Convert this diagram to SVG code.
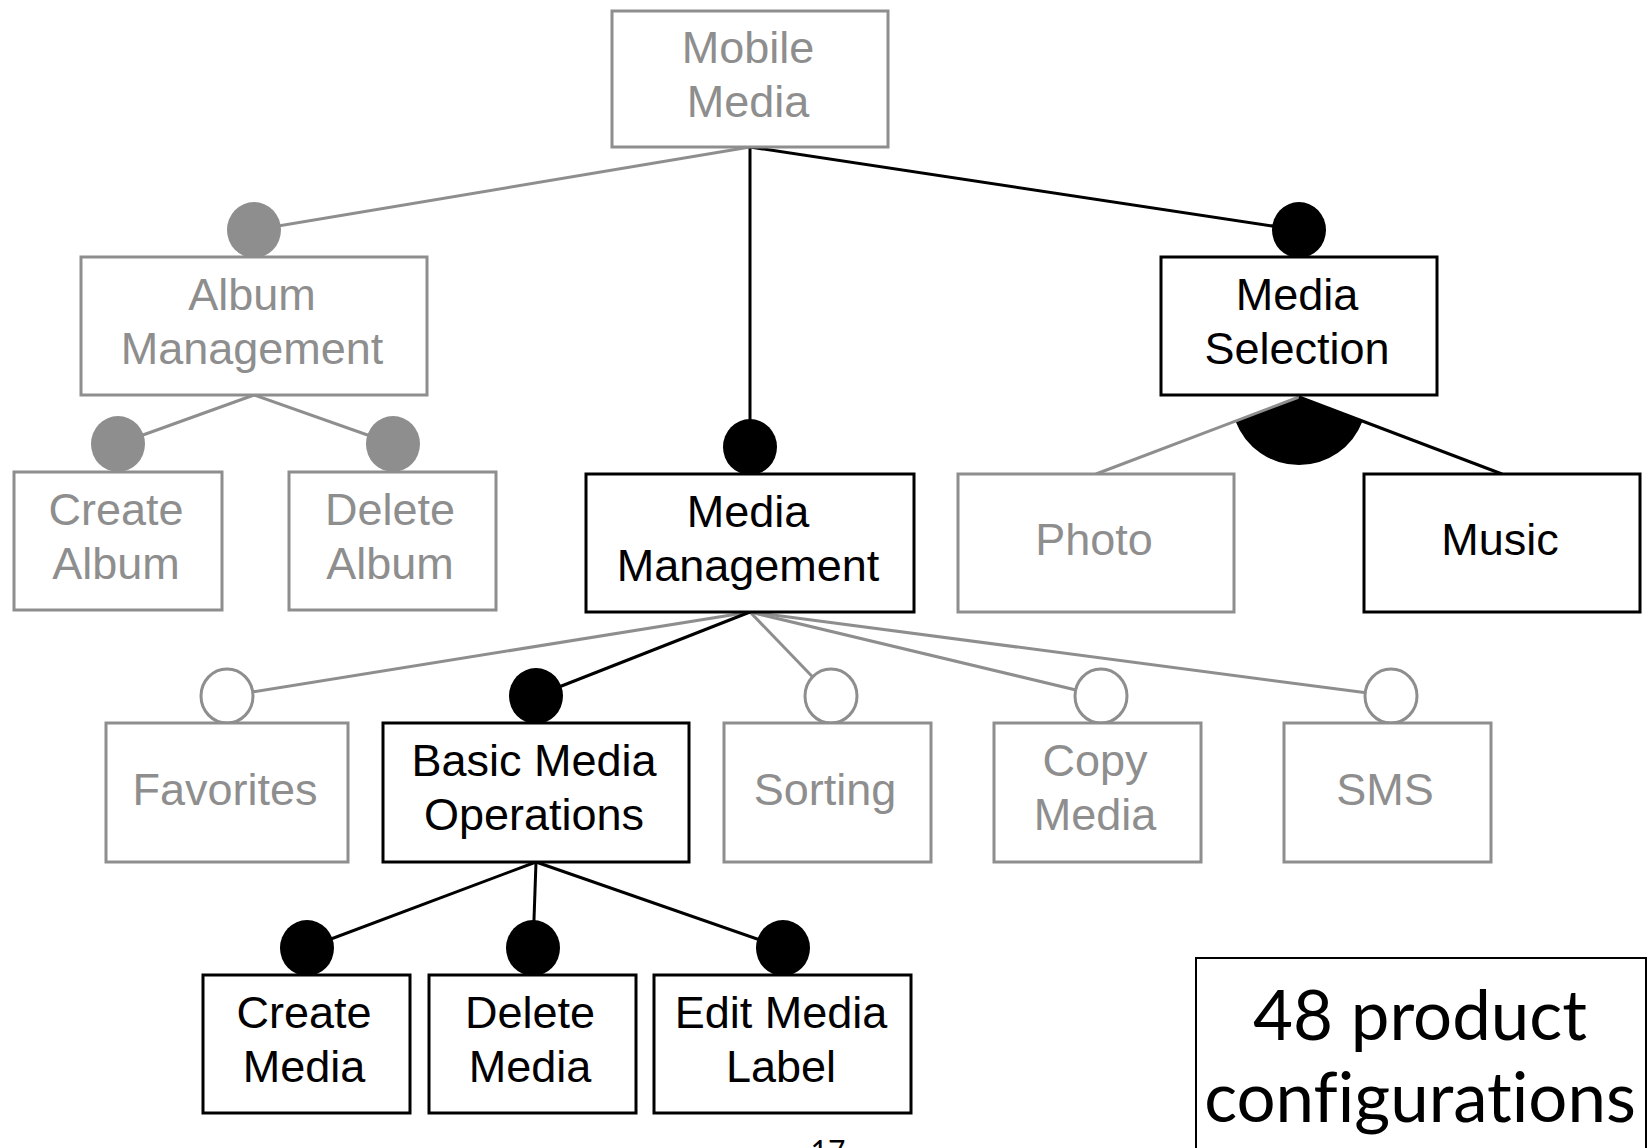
<svg xmlns="http://www.w3.org/2000/svg" width="1647" height="1148" viewBox="0 0 1647 1148">
<style>
  .g rect{fill:#fff;stroke:#8e8e8e;stroke-width:3}
  .k rect{fill:#fff;stroke:#000;stroke-width:3}
  .g text{fill:#8e8e8e}
  .k text{fill:#000}
  text{font-family:"Liberation Sans",Arial,sans-serif;font-size:45px;text-anchor:middle}
  .lg{stroke:#8e8e8e;stroke-width:3;fill:none}
  .lk{stroke:#000;stroke-width:3;fill:none}
  .cg{fill:#8e8e8e}
  .ck{fill:#000}
  .co{fill:#fff;stroke:#8e8e8e;stroke-width:3}
  .big{font-family:"Gill Sans","Lato","Open Sans",sans-serif;font-size:69px;fill:#000;font-variant-ligatures:none}
</style>
<rect width="1647" height="1148" fill="#fff"/>
<g id="connectors">
  <line class="lg" x1="750" y1="147" x2="254" y2="230"/>
  <line class="lk" x1="750" y1="147" x2="750" y2="447"/>
  <line class="lk" x1="750" y1="147" x2="1299" y2="230"/>
  <line class="lg" x1="254" y1="395" x2="118" y2="444"/>
  <line class="lg" x1="254" y1="395" x2="393" y2="444"/>
  <path class="ck" d="M1299 397 L1235.4 421.1 A68 68 0 0 0 1362.6 421.1 Z"/>
  <line class="lg" x1="1299" y1="397" x2="1096" y2="474"/>
  <line class="lk" x1="1299" y1="397" x2="1502" y2="474"/>
  <line class="lg" x1="750" y1="612" x2="227" y2="696"/>
  <line class="lg" x1="750" y1="612" x2="831" y2="696"/>
  <line class="lg" x1="750" y1="612" x2="1101" y2="696"/>
  <line class="lg" x1="750" y1="612" x2="1391" y2="696"/>
  <line class="lk" x1="750" y1="612" x2="536" y2="696"/>
  <line class="lk" x1="536" y1="862" x2="307" y2="948"/>
  <line class="lk" x1="536" y1="862" x2="533" y2="948"/>
  <line class="lk" x1="536" y1="862" x2="783" y2="948"/>
  <ellipse class="cg" cx="254" cy="230" rx="27" ry="28"/>
  <ellipse class="ck" cx="1299" cy="230" rx="27" ry="28"/>
  <ellipse class="cg" cx="118" cy="444" rx="27" ry="28"/>
  <ellipse class="cg" cx="393" cy="444" rx="27" ry="28"/>
  <ellipse class="ck" cx="750" cy="447" rx="27" ry="28"/>
  <ellipse class="co" cx="227" cy="696" rx="26" ry="27"/>
  <ellipse class="ck" cx="536" cy="696" rx="27" ry="28"/>
  <ellipse class="co" cx="831" cy="696" rx="26" ry="27"/>
  <ellipse class="co" cx="1101" cy="696" rx="26" ry="27"/>
  <ellipse class="co" cx="1391" cy="696" rx="26" ry="27"/>
  <ellipse class="ck" cx="307" cy="948" rx="27" ry="28"/>
  <ellipse class="ck" cx="533" cy="948" rx="27" ry="28"/>
  <ellipse class="ck" cx="783" cy="948" rx="27" ry="28"/>
</g>
<g id="mobile-media" class="g"><rect x="612" y="11" width="276" height="136"/><text x="748" y="63">Mobile</text><text x="748" y="117">Media</text></g>
<g id="album-management" class="g"><rect x="81" y="257" width="346" height="138"/><text x="252" y="310">Album</text><text x="252" y="364">Management</text></g>
<g id="media-selection" class="k"><rect x="1161" y="257" width="276" height="138"/><text x="1297" y="310">Media</text><text x="1297" y="364">Selection</text></g>
<g id="create-album" class="g"><rect x="14" y="472" width="208" height="138"/><text x="116" y="525">Create</text><text x="116" y="579">Album</text></g>
<g id="delete-album" class="g"><rect x="289" y="472" width="207" height="138"/><text x="390" y="525">Delete</text><text x="390" y="579">Album</text></g>
<g id="media-management" class="k"><rect x="586" y="474" width="328" height="138"/><text x="748" y="527">Media</text><text x="748" y="581">Management</text></g>
<g id="photo" class="g"><rect x="958" y="474" width="276" height="138"/><text x="1094" y="555">Photo</text></g>
<g id="music" class="k"><rect x="1364" y="474" width="276" height="138"/><text x="1500" y="555">Music</text></g>
<g id="favorites" class="g"><rect x="106" y="723" width="242" height="139"/><text x="225" y="805">Favorites</text></g>
<g id="basic-media-operations" class="k"><rect x="383" y="723" width="306" height="139"/><text x="534" y="776">Basic Media</text><text x="534" y="830">Operations</text></g>
<g id="sorting" class="g"><rect x="724" y="723" width="207" height="139"/><text x="825" y="805">Sorting</text></g>
<g id="copy-media" class="g"><rect x="994" y="723" width="207" height="139"/><text x="1095" y="776">Copy</text><text x="1095" y="830">Media</text></g>
<g id="sms" class="g"><rect x="1284" y="723" width="207" height="139"/><text x="1385" y="805">SMS</text></g>
<g id="create-media" class="k"><rect x="203" y="975" width="207" height="138"/><text x="304" y="1028">Create</text><text x="304" y="1082">Media</text></g>
<g id="delete-media" class="k"><rect x="429" y="975" width="207" height="138"/><text x="530" y="1028">Delete</text><text x="530" y="1082">Media</text></g>
<g id="edit-media-label" class="k"><rect x="654" y="975" width="257" height="138"/><text x="781" y="1028">Edit Media</text><text x="781" y="1082">Label</text></g>
<g id="product-configurations"><rect x="1196" y="958" width="450" height="200" fill="#fff" stroke="#000" stroke-width="2"/><text class="big" x="1420" y="1040">48 product</text><text class="big" x="1420" y="1122">configurations</text></g>
<text x="828" y="1162" style="font-family:'Lato','Open Sans',sans-serif;font-size:30px;fill:#000">17</text>
</svg>
